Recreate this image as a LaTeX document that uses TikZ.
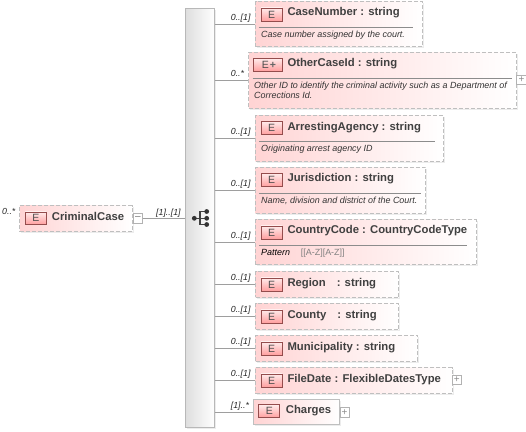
\documentclass[tikz,border=0pt]{standalone}
\usepackage{fontspec}
\setmainfont{Liberation Sans}
\usetikzlibrary{shadows,positioning}

\begin{document}
\begin{tikzpicture}[
    x=1pt, y=-1pt,
    elem/.style={draw=black!25, dash pattern=on 4pt off 2pt, line width=1.1pt, left color=red!17!white, right color=white, drop shadow={opacity=0.15, shadow xshift=1.5pt, shadow yshift=-1.5pt}, inner sep=0pt, anchor=north west},
    elemsolid/.style={elem, solid, draw=black!25, line width=0.9pt},
    badge/.style={draw=black!60!red!70, line width=0.9pt, top color=red!8!white, bottom color=red!38!white, inner sep=0pt, anchor=north west, font=\fontsize{10.5}{10.5}\selectfont, text=black!70},
    title/.style={anchor=base west, inner sep=0pt, font=\fontsize{11.3}{11.3}\bfseries\selectfont, text=black!75},
    doc/.style={anchor=base west, inner sep=0pt, font=\fontsize{8.95}{8.95}\itshape\selectfont, text=black!80},
    card/.style={anchor=base west, inner sep=0pt, font=\fontsize{8.8}{8.8}\itshape\selectfont, text=black!85},
    toggle/.style={draw=black!30, line width=0.8pt, fill=white, inner sep=0pt, minimum size=9.5pt, anchor=west, text=black!45, font=\fontsize{10}{10}\selectfont},
    link/.style={draw=black!38, line width=0.8pt},
    sep/.style={draw=black!45, line width=0.8pt}
]
    \useasboundingbox (0,0) rectangle (526,431);

    % Sequence bar
    \node[draw=black!28, line width=0.9pt, left color=black!13, right color=white, drop shadow={opacity=0.15, shadow xshift=1.5pt, shadow yshift=-1.5pt}, inner sep=0pt, anchor=north west, minimum width=29.3pt, minimum height=418.4pt] (bar) at (185, 8.3) {};

    % Root element
    \node[elem, minimum width=112.4pt, minimum height=25.7pt] (root) at (19.3, 205) {};
    \node[badge, minimum width=20.7pt, minimum height=12.6pt] (rootE) at (25, 211.5) {E};
    \node[title] (rootT) at (51.7, 220) {CriminalCase};
    \node[toggle, text=black!55] (rootC) at (132.7, 218.3) {\textendash};
    \draw[link] (rootC.east) -- (rootC.east -| bar.west);
    \node[card] (rootM) at (2, 214) {0..*};
    \node[card] (barM) at (156, 215) {[1]..[1]};

    % Sequence symbol
    \coordinate (seqS) at (194.3, 218.3);
    \coordinate (seqA) at (206.7, 211.5);
    \coordinate (seqB) at (206.7, 218.3);
    \coordinate (seqC) at (206.7, 224.5);
    \draw[black!75, line width=1.1pt] (seqS) -- (seqB) (seqA) -- (200, 211.5) -- (200, 224.5) -- (seqC);
    \fill[black!80] (seqS) circle (2.4) (seqA) circle (2.4) (seqB) circle (2.4) (seqC) circle (2.4);

    % CaseNumber
    \node[elem, minimum width=166.7pt, minimum height=45pt] (casenumber) at (255, 1) {};
    \node[badge, minimum width=21pt, minimum height=13pt] (casenumberE) at (260.7, 7.5) {E};
    \node[title] (casenumberT) at (287.3, 16) {CaseNumber : string};
    \draw[sep] (259.3, 27.3) -- (413, 27.3);
    \node[doc] (casenumberD) at (261, 37.3) {Case number assigned by the court.};
    \node[card] (casenumberM) at (230.7, 20.7) {0..[1]};
    \draw[link] (casenumber.west -| bar.east) -- (casenumber.west);

    % OtherCaseId
    \node[elem, minimum width=267.4pt, minimum height=56pt] (othercaseid) at (248.3, 51.7) {};
    \node[badge, minimum width=28.4pt, minimum height=12.7pt] (othercaseidE) at (253.3, 58) {\hspace{2pt}E\hspace{1pt}\textcolor{black!60}{\textbf{+}}};
    \node[title] (othercaseidT) at (287.3, 66.7) {OtherCaseId : string};
    \draw[sep] (252.7, 78.3) -- (511.7, 78.3);
    \node[doc] (othercaseidD) at (254, 88.7) {Other ID to identify the criminal activity such as a Department of};
    \node[doc] (othercaseidF) at (254, 98.7) {Corrections Id.};
    \node[card] (othercaseidM) at (230.7, 76.7) {0..*};
    \draw[link] (othercaseid.west -| bar.east) -- (othercaseid.west);
    \node[toggle] (othercaseidP) at (516.3, 79.8) {+};

    % ArrestingAgency
    \node[elem, minimum width=187.7pt, minimum height=46pt] (arrestingagency) at (255, 114.7) {};
    \node[badge, minimum width=21pt, minimum height=13pt] (arrestingagencyE) at (260.7, 121) {E};
    \node[title] (arrestingagencyT) at (287.3, 130) {ArrestingAgency : string};
    \draw[sep] (259.3, 141.3) -- (435, 141.3);
    \node[doc] (arrestingagencyD) at (261, 151.7) {Originating arrest agency ID};
    \node[card] (arrestingagencyM) at (230.7, 134.3) {0..[1]};
    \draw[link] (arrestingagency.west -| bar.east) -- (arrestingagency.west);

    % Jurisdiction
    \node[elem, minimum width=170pt, minimum height=46pt] (jurisdiction) at (255, 166.7) {};
    \node[badge, minimum width=21pt, minimum height=13pt] (jurisdictionE) at (260.7, 173) {E};
    \node[title] (jurisdictionT) at (287.3, 181.7) {Jurisdiction : string};
    \draw[sep] (259.3, 193.3) -- (421, 193.3);
    \node[doc] (jurisdictionD) at (261, 203.7) {Name, division and district of the Court.};
    \node[card] (jurisdictionM) at (230.7, 186) {0..[1]};
    \draw[link] (jurisdiction.west -| bar.east) -- (jurisdiction.west);

    % CountryCode
    \node[elem, minimum width=220.7pt, minimum height=45.3pt] (countrycode) at (255, 219) {};
    \node[badge, minimum width=21pt, minimum height=13pt] (countrycodeE) at (260.7, 225.5) {E};
    \node[title] (countrycodeT) at (287.3, 233.7) {CountryCode : CountryCodeType};
    \draw[sep] (259.3, 245.3) -- (467.3, 245.3);
    \node[doc, text=black] (countrycodeD) at (261, 255.7) {Pattern};
    \node[doc, font=\fontsize{8.95}{8.95}\selectfont, text=black!50] (countrycodeP) at (300.7, 255.7) {[[A-Z][A-Z]]};
    \node[card] (countrycodeM) at (230.7, 238.3) {0..[1]};
    \draw[link] (countrycode.west -| bar.east) -- (countrycode.west);

    % Region
    \node[elem, minimum width=143.3pt, minimum height=25.7pt] (region) at (255, 271) {};
    \node[badge, minimum width=21pt, minimum height=13pt] (regionE) at (260.7, 277.5) {E};
    \node[title] (regionT) at (287.3, 286) {Region\hspace{11pt}: string};
    \node[card] (regionM) at (230.7, 280.7) {0..[1]};
    \draw[link] (region.west -| bar.east) -- (region.west);

    % County
    \node[elem, minimum width=143.3pt, minimum height=25.7pt] (county) at (255, 303) {};
    \node[badge, minimum width=21pt, minimum height=13pt] (countyE) at (260.7, 309.5) {E};
    \node[title] (countyT) at (287.3, 318) {County\hspace{11pt}: string};
    \node[card] (countyM) at (230.7, 312.7) {0..[1]};
    \draw[link] (county.west -| bar.east) -- (county.west);

    % Municipality
    \node[elem, minimum width=162.3pt, minimum height=25.5pt] (municipality) at (255, 335) {};
    \node[badge, minimum width=21pt, minimum height=13pt] (municipalityE) at (260.7, 341.5) {E};
    \node[title] (municipalityT) at (287.3, 350) {Municipality : string};
    \node[card] (municipalityM) at (230.7, 344.7) {0..[1]};
    \draw[link] (municipality.west -| bar.east) -- (municipality.west);

    % FileDate
    \node[elem, minimum width=196.7pt, minimum height=25.5pt] (filedate) at (255, 367) {};
    \node[badge, minimum width=21pt, minimum height=13pt] (filedateE) at (260.7, 373.5) {E};
    \node[title] (filedateT) at (287.3, 382) {FileDate : FlexibleDatesType};
    \node[card] (filedateM) at (230.7, 376.7) {0..[1]};
    \draw[link] (filedate.west -| bar.east) -- (filedate.west);
    \node[toggle] (filedateP) at (451.7, 380) {+};

    % Charges
    \node[elemsolid, minimum width=85.7pt, minimum height=25.3pt] (charges) at (253.3, 399) {};
    \node[badge, minimum width=21pt, minimum height=13pt] (chargesE) at (258.3, 404.3) {E};
    \node[title] (chargesT) at (285.7, 413.7) {Charges};
    \node[card] (chargesM) at (230.7, 408) {[1]..*};
    \draw[link] (charges.west -| bar.east) -- (charges.west);
    \node[toggle] (chargesP) at (339.5, 412.5) {+};
\end{tikzpicture}
\end{document}
